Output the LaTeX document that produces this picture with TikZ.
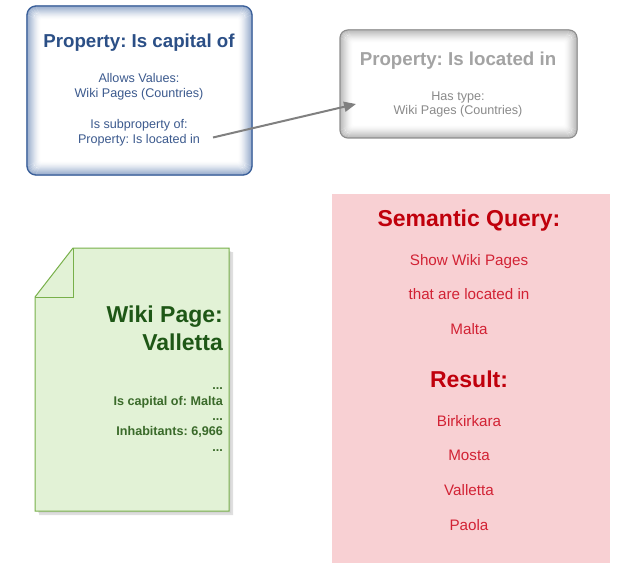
\documentclass[tikz,border=0pt]{standalone}
\usepackage{fontspec}
\setmainfont{Liberation Sans}
\usetikzlibrary{arrows.meta}
\frenchspacing
\definecolor{bBorder}{HTML}{3A5F99}
\definecolor{bGlow}{HTML}{7E98C0}
\definecolor{bTitle}{HTML}{2B4F86}
\definecolor{bText}{HTML}{3C5A8E}
\definecolor{gBorder}{HTML}{8C8C8C}
\definecolor{gGlow}{HTML}{A8A8A8}
\definecolor{gTitle}{HTML}{A3A3A3}
\definecolor{gText}{HTML}{8A8A8A}
\definecolor{docFill}{HTML}{E2F2D6}
\definecolor{docLine}{HTML}{78B04A}
\definecolor{docTitle}{HTML}{1E5716}
\definecolor{docText}{HTML}{3A6A2A}
\definecolor{qFill}{HTML}{F8D0D3}
\definecolor{qTitle}{HTML}{C0000C}
\definecolor{qText}{HTML}{D22234}
\definecolor{arrowC}{HTML}{808080}
\tikzset{
  txt/.style={inner sep=0pt, anchor=base},
  title/.style={txt, font=\fontsize{18.7}{22}\selectfont\bfseries},
  body/.style={txt, font=\fontsize{12.6}{15}\selectfont},
  docbig/.style={txt, anchor=base east, font=\fontsize{23}{27}\selectfont\bfseries, text=docTitle},
  docsmall/.style={txt, anchor=base east, font=\fontsize{12.6}{15}\selectfont\bfseries, text=docText},
  qbig/.style={txt, font=\fontsize{23}{27}\selectfont\bfseries, text=qTitle},
  qsmall/.style={txt, font=\fontsize{15.2}{18}\selectfont, text=qText},
  link/.style={draw=arrowC, line width=2pt, -{Triangle[length=12pt,width=10pt]}},
}
\begin{document}
\begin{tikzpicture}[x=1pt,y=-1pt]
\useasboundingbox (0,0) rectangle (620,572);
\fill[white] (0,0) rectangle (620,572);

% Box 1 (blue glow)
\fill[white, rounded corners=9pt] (27,6) rectangle (252,175);
\foreach \i in {0,...,13} {
  \pgfmathsetmacro{\op}{0.85*(1-\i/14)^1.7}
  \draw[bGlow, draw opacity=\op, line width=1.1pt, rounded corners={max(9-\i*0.5,2)*1pt}]
    (27+\i,6+\i) rectangle (252-\i,175-\i);
}
\draw[bBorder, line width=1.3pt, rounded corners=9pt] (27,6) rectangle (252,175);
\node[title, text=bTitle] (t1) at (139,48) {Property: Is capital of};
\node[body, text=bText] (l1) at (139,83) {Allows Values:};
\node[body, text=bText] (l2) at (139,98) {Wiki Pages (Countries)};
\node[body, text=bText] (l3) at (139,129) {Is subproperty of:};
\node[body, text=bText] (l4) at (139,144) {Property: Is located in};

% Box 2 (gray glow)
\fill[white, rounded corners=8pt] (340,30) rectangle (577,138);
\foreach \i in {0,...,12} {
  \pgfmathsetmacro{\op}{0.85*(1-\i/13)^1.7}
  \draw[gGlow, draw opacity=\op, line width=1.1pt, rounded corners={max(8-\i*0.5,2)*1pt}]
    (340+\i,30+\i) rectangle (577-\i,138-\i);
}
\draw[gBorder, line width=1pt, rounded corners=8pt] (340,30) rectangle (577,138);
\node[title, text=gTitle] (t2) at (458,66) {Property: Is located in};
\node[body, text=gText] (h1) at (458,100.5) {Has type:};
\node[body, text=gText] (h2) at (458,115) {Wiki Pages (Countries)};

% Arrow
\coordinate (as) at (213,137.5);
\coordinate (ae) at (356,104);
\draw[link] (as) -- (ae);

% Wiki page document
\fill[black!35, opacity=0.35] (39,301) -- (77,252) -- (233,252) -- (233,515) -- (39,515) -- cycle;
\fill[black!25, opacity=0.3] (38,300) -- (76,251) -- (231,251) -- (231,513) -- (38,513) -- cycle;
\draw[docLine, fill=docFill, line width=1pt, line join=miter] (35,297) -- (73,248) -- (229,248) -- (229,511) -- (35,511) -- cycle;
\draw[docLine, line width=1pt] (73,248) -- (73,297) -- (35,297);
\node[docbig] (w1) at (223,322.7) {Wiki Page:};
\node[docbig] (w2) at (223,350.7) {Valletta};
\node[docsmall] (d1) at (223,389) {...};
\node[docsmall] (d2) at (223,405) {Is capital of: Malta};
\node[docsmall] (d3) at (223,420.7) {...};
\node[docsmall] (d4) at (223,435.7) {Inhabitants: 6,966};
\node[docsmall] (d5) at (223,451.7) {...};

% Semantic query box
\fill[qFill] (332,194) rectangle (610,563);
\node[qbig] (q0) at (469,226.7) {Semantic Query:};
\node[qsmall] (q1) at (469,265) {Show Wiki Pages};
\node[qsmall] (q2) at (469,299.3) {that are located in};
\node[qsmall] (q3) at (469,334) {Malta};
\node[qbig] (r0) at (469,387.3) {Result:};
\node[qsmall] (r1) at (469,426) {Birkirkara};
\node[qsmall] (r2) at (469,460.7) {Mosta};
\node[qsmall] (r3) at (469,495) {Valletta};
\node[qsmall] (r4) at (469,530) {Paola};
\end{tikzpicture}
\end{document}
